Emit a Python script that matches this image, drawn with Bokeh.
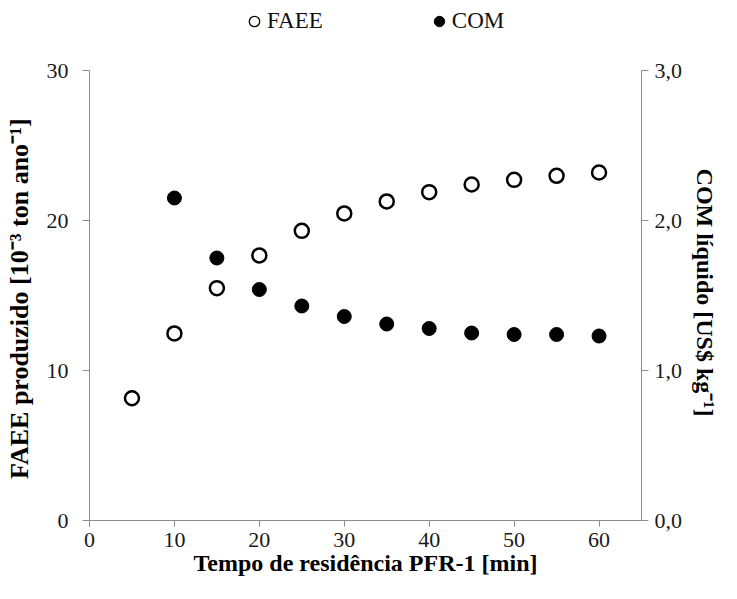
from bokeh.plotting import figure
from bokeh.layouts import column
from bokeh.models import Range1d, LinearAxis, FixedTicker, CustomJSTickFormatter, Legend, LegendItem
from bokeh.embed import file_html
from bokeh.resources import INLINE

# ---- data ----
faee_x = [5, 10, 15, 20, 25, 30, 35, 40, 45, 50, 55, 60]
faee_y = [8.15, 12.47, 15.49, 17.67, 19.31, 20.47, 21.27, 21.89, 22.40, 22.71, 22.98, 23.20]
com_x = [10, 15, 20, 25, 30, 35, 40, 45, 50, 55, 60]
com_y = [2.15, 1.75, 1.54, 1.43, 1.36, 1.31, 1.28, 1.25, 1.24, 1.24, 1.23]
x_ticks = [0, 10, 20, 30, 40, 50, 60]
left_ticks = [0, 10, 20, 30]
right_ticks = [0, 1, 2, 3]
series_names = ["FAEE", "COM"]

FONT = "Liberation Serif"
AXIS_COLOR = "#8c8c8c"

# ---- legend strip on top (its glyphs sit outside its visible range) ----
head = figure(width=721, height=46, output_backend="svg", toolbar_location=None,
              x_range=Range1d(1000, 1001), y_range=Range1d(1000, 1001),
              x_axis_location=None, y_axis_location=None,
              min_border_left=0, min_border_right=0, min_border_top=0, min_border_bottom=0)
head.xgrid.visible = False
head.ygrid.visible = False
head.outline_line_color = None
h_faee = head.scatter(faee_x[:1], faee_y[:1], marker="circle", fill_color="white",
                      line_color="black", line_width=1.3)
h_com = head.scatter(com_x[:1], com_y[:1], marker="circle", fill_color="black",
                     line_color="black", line_width=1)
legend = Legend(items=[LegendItem(label=series_names[0], renderers=[h_faee]),
                       LegendItem(label=series_names[1], renderers=[h_com])],
                orientation="horizontal", location=(152, 12),
                label_text_font=FONT, label_text_font_size="23px", label_text_color="#111111",
                glyph_width=26, glyph_height=26, label_standoff=-6, spacing=103,
                border_line_alpha=0, background_fill_alpha=0, padding=0, margin=0)
head.add_layout(legend, "center")

# ---- main chart ----
p = figure(width=721, height=537, output_backend="svg", toolbar_location=None,
           x_range=Range1d(0, 65), y_range=Range1d(0, 30),
           min_border_left=89, min_border_right=76, min_border_top=24, min_border_bottom=63)
p.extra_y_ranges = {"com": Range1d(0, 3)}
p.xgrid.visible = False
p.ygrid.visible = False
p.outline_line_color = None

def style_axis(ax, label, title_size):
    ax.axis_label = label
    ax.axis_label_text_font = FONT
    ax.axis_label_text_font_style = "bold"
    ax.axis_label_text_font_size = title_size
    ax.axis_label_text_color = "black"
    ax.major_label_text_font = FONT
    ax.major_label_text_font_size = "22px"
    ax.major_label_text_color = "#1a1a1a"
    ax.axis_line_color = AXIS_COLOR
    ax.major_tick_line_color = AXIS_COLOR
    ax.major_tick_in = 0
    ax.major_tick_out = 7
    ax.minor_tick_line_color = None

style_axis(p.xaxis[0], "Tempo de residência PFR-1 [min]", "24px")
p.xaxis[0].ticker = FixedTicker(ticks=x_ticks)
p.xaxis[0].major_tick_out = 6
p.xaxis[0].major_label_standoff = 6
p.xaxis[0].axis_label_standoff = 0

style_axis(p.yaxis[0], "FAEE produzido  [10⁻³ ton ano⁻¹]", "26px")
p.yaxis[0].ticker = FixedTicker(ticks=left_ticks)
p.yaxis[0].major_label_standoff = 14
p.yaxis[0].axis_label_standoff = 10

right = LinearAxis(y_range_name="com", ticker=FixedTicker(ticks=right_ticks),
                   formatter=CustomJSTickFormatter(code="return tick.toFixed(1).replace('.', ',');"))
style_axis(right, "COM líquido  [US$ kg⁻¹]", "24px")
right.major_label_standoff = 6
right.axis_label_standoff = 7
p.add_layout(right, "right")

p.scatter(faee_x, faee_y, size=14, marker="circle", fill_color="white",
          line_color="black", line_width=2.5)
p.scatter(com_x, com_y, size=14, marker="circle", fill_color="black",
          line_color="black", line_width=1, y_range_name="com")

open("out.html", "w").write(file_html(column(head, p, spacing=0), INLINE))
